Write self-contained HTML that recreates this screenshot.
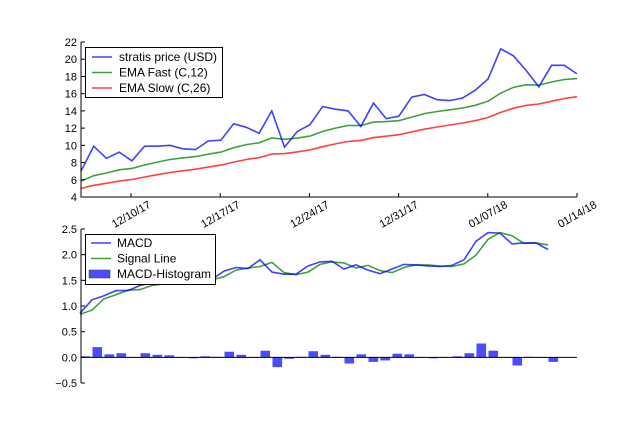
<!DOCTYPE html>
<html><head><meta charset="utf-8"><style>
body{margin:0;background:#fff;}
svg{display:block;font-family:"Liberation Sans",sans-serif;}
</style></head><body>
<svg id="s" width="640" height="427" xmlns="http://www.w3.org/2000/svg"></svg>
<script>
var P=[7.0,9.9,8.5,9.2,8.2,9.9,9.9,10.0,9.6,9.5,10.5,10.6,12.5,12.1,11.4,14.0,9.8,11.6,12.4,14.5,14.2,14.0,12.2,14.9,13.1,13.4,15.6,15.9,15.3,15.2,15.5,16.4,17.7,21.2,20.4,18.7,16.8,19.3,19.3,18.3];
var M=[0.86,1.12,1.2,1.3,1.3,1.4,1.45,1.47,1.49,1.49,1.5,1.52,1.68,1.75,1.73,1.9,1.66,1.62,1.62,1.78,1.86,1.87,1.72,1.8,1.7,1.63,1.72,1.81,1.8,1.78,1.77,1.79,1.9,2.26,2.43,2.42,2.21,2.23,2.23,2.1];
var H=[0.02,0.2,0.06,0.08,-0.01,0.08,0.05,0.04,0,-0.02,0.02,0.01,0.11,0.05,-0.01,0.13,-0.19,-0.03,0.01,0.12,0.05,0.01,-0.12,0.06,-0.09,-0.06,0.07,0.06,0,-0.02,-0.01,0.02,0.08,0.27,0.13,-0.01,-0.16,0.01,0,-0.09];
var n=P.length,F=[],S=[],G=[];
var af=2/13,as=2/27;
for(var i=0;i<n;i++){
 F[i]=i?F[i-1]+af*(P[i]-F[i-1]):5.85;
 S[i]=i?S[i-1]+as*(P[i]-S[i-1]):5.0;
 G[i]=M[i]-H[i];
}
var x0=81,x1=577,dx=(x1-x0)/(n-1);
function X(i){return x0+i*dx;}
function X2(i){return 80+i*12;}
function Y1(v){return 197-(v-4)*155/18;}
function Y2(v){return 383-(v+0.5)*154/3;}
var o='';
function line(a,Y,c,XX){var d='';for(var i=0;i<n;i++)d+=(i?'L':'M')+XX(i).toFixed(1)+' '+Y(a[i]).toFixed(1);o+='<path d="'+d+'" fill="none" stroke="'+c+'" stroke-opacity="0.75" stroke-width="1.6"/>';}
for(var i=0;i<n;i++){var y=Y2(H[i]),z=Y2(0);o+='<rect x="'+(X2(i)+0.5).toFixed(1)+'" y="'+Math.min(y,z).toFixed(1)+'" width="9.6" height="'+Math.max(0.5,Math.abs(y-z)).toFixed(1)+'" fill="#0000ff" fill-opacity="0.7"/>';}
o+='<line x1="81" y1="'+Y2(0)+'" x2="577" y2="'+Y2(0)+'" stroke="#000" stroke-width="1"/>';
line(F,Y1,'#008000',X);line(S,Y1,'#ff0000',X);line(P,Y1,'#0000ff',X);
line(G,Y2,'#008000',X2);line(M,Y2,'#0000ff',X2);
o+='<path d="M81 42V197H577" fill="none" stroke="#000"/>';
o+='<path d="M81 229V383" fill="none" stroke="#000"/>';
for(var v=4;v<=22;v+=2){var y=Y1(v);o+='<line x1="81" y1="'+y+'" x2="85" y2="'+y+'" stroke="#000"/><text x="77" y="'+(y+4)+'" font-size="11" text-anchor="end">'+v+'</text>';}
var lb=['2.5','2.0','1.5','1.0','0.5','0.0','\u22120.5'];
for(var k=0;k<7;k++){var v=2.5-k*0.5,y=Y2(v);o+='<line x1="81" y1="'+y+'" x2="85" y2="'+y+'" stroke="#000"/><text x="77" y="'+(y+4)+'" font-size="11" text-anchor="end">'+lb[k]+'</text>';}
var dl=['12/10/17','12/17/17','12/24/17','12/31/17','01/07/18','01/14/18'];
for(var k=0;k<6;k++){var x=131+k*89.2;o+='<line x1="'+x+'" y1="197" x2="'+x+'" y2="193" stroke="#000"/><text transform="translate('+(x)+',214) rotate(-30)" y="4" font-size="11" text-anchor="middle">'+dl[k]+'</text>';}
o+='<rect x="85.5" y="47.5" width="137" height="50" fill="#fff" stroke="#000"/>';
var L1=[['stratis price (USD)','#0000ff'],['EMA Fast (C,12)','#008000'],['EMA Slow (C,26)','#ff0000']];
for(var k=0;k<3;k++){var y=57+k*15.5;o+='<line x1="92" y1="'+y+'" x2="112" y2="'+y+'" stroke="'+L1[k][1]+'" stroke-opacity="0.75" stroke-width="1.6"/><text x="119" y="'+(y+4)+'" font-size="12">'+L1[k][0]+'</text>';}
o+='<rect x="85.5" y="234.5" width="130" height="50" fill="#fff" stroke="#000"/>';
var L2=[['MACD','#0000ff'],['Signal Line','#008000']];
for(var k=0;k<2;k++){var y=243+k*15.5;o+='<line x1="91" y1="'+y+'" x2="111" y2="'+y+'" stroke="'+L2[k][1]+'" stroke-opacity="0.75" stroke-width="1.6"/><text x="117" y="'+(y+4)+'" font-size="12">'+L2[k][0]+'</text>';}
o+='<rect x="89" y="270" width="21" height="8" fill="#0000ff" fill-opacity="0.7" stroke="#333" stroke-width="0.5"/><text x="117" y="278" font-size="12">MACD-Histogram</text>';
document.getElementById('s').innerHTML=o;
</script>
</body></html>
